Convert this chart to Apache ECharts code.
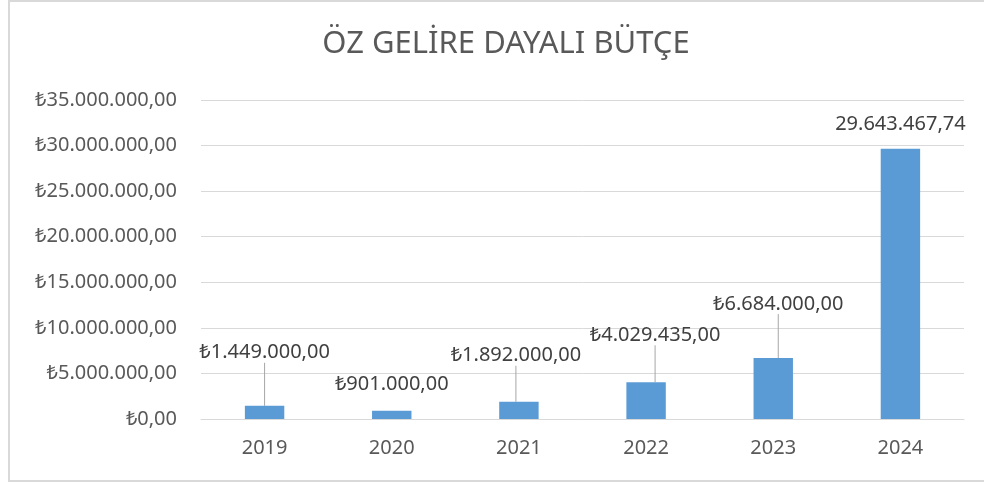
<!DOCTYPE html>
<html>
<head>
<meta charset="utf-8">
<script src="https://cdn.jsdelivr.net/npm/echarts@6/dist/echarts.min.js"></script>
<style>
html,body{margin:0;padding:0;background:#fff;}
#c{width:984px;height:484px;}
</style>
</head>
<body>
<div id="c"></div>
<script>
const titleText = 'ÖZ GELİRE DAYALI BÜTÇE';
const categories = ['2019', '2020', '2021', '2022', '2023', '2024'];
const values = [1449000, 901000, 1892000, 4029435, 6684000, 29643467.74];
const showCurrency = [true, true, true, true, true, false];
const yTicks = [0, 5000000, 10000000, 15000000, 20000000, 25000000, 30000000, 35000000];

// label offsets (styling, not data)
const labelDx = [0, 0, -3, 9, 5, 0];
const labelDy = [-38, -11, -31, -32, -39, -10];
const labelLineOn = [true, false, true, true, true, false];

function fmtTR(v) {
  const fixed = Math.abs(v).toFixed(2);
  const parts = fixed.split('.');
  const intPart = parts[0].replace(/\B(?=(\d{3})+(?!\d))/g, '.');
  return (v < 0 ? '-' : '') + intPart + ',' + parts[1];
}

const chart = echarts.init(document.getElementById('c'), null, {renderer: 'canvas'});
const FONT = '"Noto Sans", "DejaVu Sans", sans-serif';

const option = {
  animation: false,
  backgroundColor: '#ffffff',
  textStyle: {fontFamily: FONT},
  title: {
    text: titleText,
    left: 501,
    textAlign: 'center',
    top: 24,
    textStyle: {fontFamily: FONT, fontSize: 31, fontWeight: 'normal', color: '#595959'}
  },
  graphic: [{
    type: 'rect',
    shape: {x: 9, y: 1, width: 1000, height: 480},
    style: {fill: 'none', stroke: '#d9d9d9', lineWidth: 2},
    silent: true,
    z: -10
  }],
  grid: {left: 201, right: 20, top: 100, bottom: 65, containLabel: false},
  xAxis: {
    type: 'category',
    data: categories,
    axisLine: {show: true, lineStyle: {color: '#d9d9d9', width: 1}},
    axisTick: {show: false},
    axisLabel: {color: '#595959', fontSize: 20, fontFamily: FONT, margin: 19}
  },
  yAxis: {
    type: 'value',
    min: yTicks[0],
    max: yTicks[yTicks.length - 1],
    interval: yTicks[1] - yTicks[0],
    axisLine: {show: false},
    axisTick: {show: false},
    splitLine: {lineStyle: {color: '#d9d9d9', width: 1}},
    axisLabel: {
      color: '#595959', fontSize: 20, fontFamily: FONT, margin: 24,
      formatter: v => '₺' + fmtTR(v)
    }
  },
  series: [{
    type: 'bar',
    barWidth: '31%',
    itemStyle: {color: '#5b9bd5'},
    data: values.map((v, i) => ({
      value: v,
      labelLine: {show: labelLineOn[i]}
    })),
    label: {
      show: true,
      position: 'top',
      distance: 5,
      color: '#404040',
      fontSize: 20,
      fontFamily: FONT,
      padding: [0, 0, 8, 0],
      formatter: p => (showCurrency[p.dataIndex] ? '₺' : '') + fmtTR(p.value)
    },
    labelLine: {
      show: true,
      lineStyle: {color: '#a6a6a6', width: 1}
    },
    labelLayout: p => ({dx: labelDx[p.dataIndex], dy: labelDy[p.dataIndex] + 8})
  }]
};
chart.setOption(option);
</script>
</body>
</html>
